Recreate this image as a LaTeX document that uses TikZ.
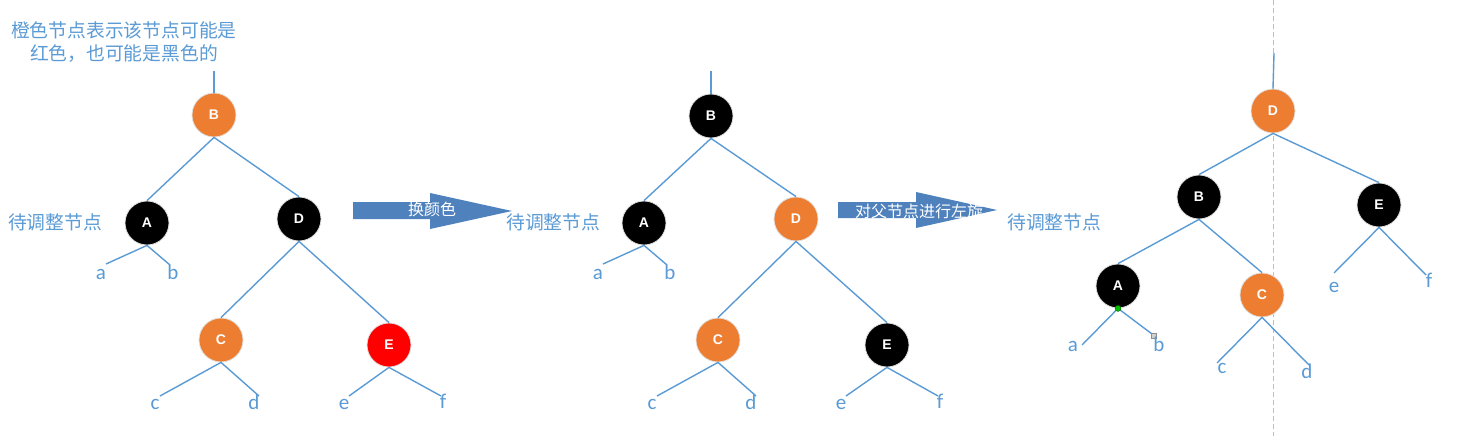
\documentclass[tikz,border=0pt]{standalone}
\usepackage{fontspec}
\setmainfont{Carlito}
\newfontfamily\cjk{Noto Sans CJK SC}
\newfontfamily\nodefont{Liberation Sans}
\definecolor{lblue}{HTML}{5B9BD5}
\definecolor{orng}{HTML}{ED7D31}
\definecolor{arrowblue}{HTML}{4F81BD}
\definecolor{dgrey}{HTML}{BFBFBF}
\tikzset{
  rb/.style={circle, minimum size=44pt, inner sep=0pt, font=\nodefont\bfseries\fontsize{14}{14}\selectfont, text=white, draw=black!12, line width=0.8pt},
  blk/.style={rb, fill=black},
  org/.style={rb, fill=orng},
  redn/.style={rb, fill=red},
  edge/.style={draw=lblue, line width=1.4pt},
  leaf/.style={font=\fontsize{21}{21}\selectfont, text=lblue, anchor=base, inner sep=0pt},
  cjklabel/.style={font=\cjk\fontsize{18.8}{24}\selectfont, text=lblue, inner sep=0pt},
  arrowshape/.style={fill=arrowblue, draw=none},
  arrowtext/.style={font=\cjk\fontsize{16}{16}\selectfont, text=white, inner sep=0pt}
}
\begin{document}
\begin{tikzpicture}[x=1pt,y=-1pt]
\fill[white] (0,0) rectangle (1465,436);
\useasboundingbox (0,0) rectangle (1465,436);

% dashed guide
\coordinate (gt) at (1273,0);
\coordinate (gb) at (1273,436);
\draw[dgrey, line width=0.9pt, dash pattern=on 5pt off 3pt] (gt) -- (gb);

% ---------- tree 1 ----------
\node[cjklabel] (note1) at (124,30) {橙色节点表示该节点可能是};
\node[cjklabel] (note2) at (124,54) {红色，也可能是黑色的};
\node[cjklabel, anchor=west] (adj1) at (8,222) {待调整节点};

\node[org]  (B1) at (214,115) {B};
\node[blk]  (A1) at (147,223) {A};
\node[blk]  (D1) at (299,219) {D};
\node[org]  (C1) at (221,340) {C};
\node[redn] (E1) at (389,345) {E};
\coordinate (top1) at (214,71);
\coordinate (a1) at (106,264); \coordinate (b1) at (170,265);
\coordinate (c1) at (160,396); \coordinate (d1) at (259,396);
\coordinate (e1) at (349,396); \coordinate (f1) at (441,396);
\draw[edge] (top1) -- (B1.north);
\draw[edge] (B1.south) -- (A1.north);
\draw[edge] (B1.south) -- (D1.north);
\draw[edge] (A1.south) -- (a1);
\draw[edge] (A1.south) -- (b1);
\draw[edge] (D1.south) -- (C1.north);
\draw[edge] (D1.south) -- (E1.north);
\draw[edge] (C1.south) -- (c1);
\draw[edge] (C1.south) -- (d1);
\draw[edge] (E1.south) -- (e1);
\draw[edge] (E1.south) -- (f1);
\node[leaf] (la1) at (101,279) {a};
\node[leaf] (lb1) at (173,279) {b};
\node[leaf] (lc1) at (155,409) {c};
\node[leaf] (ld1) at (254,409) {d};
\node[leaf] (le1) at (344,409) {e};
\node[leaf] (lf1) at (443,408) {f};

% arrow 1
\fill[arrowshape] (353,202) -- (430,202) -- (430,193) -- (512,211) -- (430,229) -- (430,219) -- (353,219) -- cycle;
\node[arrowtext] (t1) at (432,209) {换颜色};

% ---------- tree 2 ----------
\node[cjklabel, anchor=west] (adj2) at (506,222) {待调整节点};
\node[blk] (B2) at (711,116) {B};
\node[blk] (A2) at (644,223) {A};
\node[org] (D2) at (796,219) {D};
\node[org] (C2) at (718,340) {C};
\node[blk] (E2) at (887,345) {E};
\coordinate (top2) at (711,71);
\coordinate (a2) at (603,264); \coordinate (b2) at (667,265);
\coordinate (c2) at (657,396); \coordinate (d2) at (756,396);
\coordinate (e2) at (846,396); \coordinate (f2) at (938,396);
\draw[edge] (top2) -- (B2.north);
\draw[edge] (B2.south) -- (A2.north);
\draw[edge] (B2.south) -- (D2.north);
\draw[edge] (A2.south) -- (a2);
\draw[edge] (A2.south) -- (b2);
\draw[edge] (D2.south) -- (C2.north);
\draw[edge] (D2.south) -- (E2.north);
\draw[edge] (C2.south) -- (c2);
\draw[edge] (C2.south) -- (d2);
\draw[edge] (E2.south) -- (e2);
\draw[edge] (E2.south) -- (f2);
\node[leaf] (la2) at (598,279) {a};
\node[leaf] (lb2) at (670,279) {b};
\node[leaf] (lc2) at (652,409) {c};
\node[leaf] (ld2) at (751,409) {d};
\node[leaf] (le2) at (841,409) {e};
\node[leaf] (lf2) at (940,408) {f};

% arrow 2
\fill[arrowshape] (838,202) -- (916,202) -- (916,192) -- (997,210) -- (916,228) -- (916,218) -- (838,218) -- cycle;
\begin{scope}
\clip (838,185) rectangle (984,235);
\node[arrowtext, anchor=west] (t2) at (855,211) {对父节点进行左旋};
\end{scope}

% ---------- tree 3 ----------
\node[cjklabel, anchor=west] (adj3) at (1007,222) {待调整节点};
\node[org] (D3) at (1273,111) {D};
\node[blk] (B3) at (1199,197) {B};
\node[blk] (E3) at (1379,205) {E};
\node[blk] (A3) at (1118,286) {A};
\node[org] (C3) at (1262,295) {C};
\coordinate (top3) at (1274,53);
\coordinate (a3) at (1082,345); \coordinate (b3) at (1152,334);
\coordinate (c3) at (1217,363); \coordinate (d3) at (1309,365);
\coordinate (e3) at (1334,273); \coordinate (f3) at (1426,275);
\draw[edge] (top3) -- (D3.north);
\draw[edge] (D3.south) -- (B3.north);
\draw[edge] (D3.south) -- (E3.north);
\draw[edge] (B3.south) -- (A3.north);
\draw[edge] (B3.south) -- (C3.north);
\draw[edge] (A3.south) -- (a3);
\draw[edge] (A3.south) -- (b3);
\draw[edge] (C3.south) -- (c3);
\draw[edge] (C3.south) -- (d3);
\draw[edge] (E3.south) -- (e3);
\draw[edge] (E3.south) -- (f3);
\node[circle, fill=green!75!black, draw=green!40!black, line width=0.4pt, minimum size=6pt, inner sep=0pt] (gdot) at (A3.south) {};
\node[rectangle, fill=black!18, draw=black!45, line width=0.4pt, minimum size=5pt, inner sep=0pt] (gsq) at (1154,336) {};
\node[leaf] (la3) at (1073,351) {a};
\node[leaf] (lb3) at (1159,351) {b};
\node[leaf] (lc3) at (1222,373) {c};
\node[leaf] (ld3) at (1307,378) {d};
\node[leaf] (le3) at (1334,292) {e};
\node[leaf] (lf3) at (1429,287) {f};
\end{tikzpicture}
\end{document}
